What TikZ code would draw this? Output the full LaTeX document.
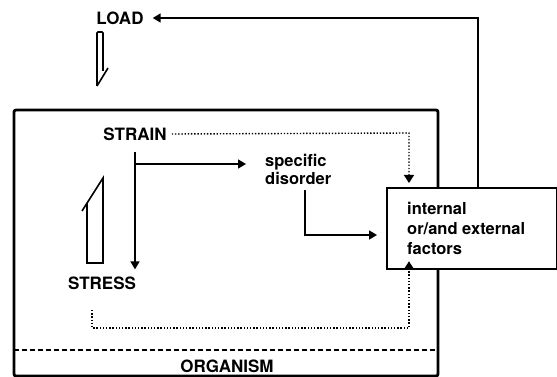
\documentclass[tikz,border=0pt]{standalone}
\usepackage{fontspec}
\setmainfont{TeX Gyre Heros}
\usetikzlibrary{arrows.meta}
\begin{document}
\begin{tikzpicture}[x=1pt,y=-1pt,
  lbl/.style={font=\fontsize{17}{20}\selectfont\bfseries, inner sep=0pt},
  conn/.style={line width=1.7pt, -{Triangle[length=8pt,width=9pt]}},
  dotline/.style={line width=1.4pt, dash pattern=on 1.4pt off 1.8pt, -{Triangle[length=8pt,width=10pt]}},
  hollow/.style={line width=1.6pt, line join=miter},
  boxline/.style={line width=2.8pt}]
\useasboundingbox (0,0) rectangle (557,377);
% organism box
\draw[boxline, rounded corners=2pt] (14,110) rectangle (438,376);
\draw[line width=2.8pt, dash pattern=on 5pt off 3pt] (14,350) -- (438,350);
\node[lbl] (org) at (227,366) {ORGANISM};
% factors box
\node[draw, line width=2.3pt, fill=white, minimum width=170pt, minimum height=81pt,
      anchor=north west, inner sep=0pt] (fac) at (386,187) {};
\node[font=\fontsize{16.5}{20}\selectfont\bfseries, align=left, anchor=west, inner sep=0pt]
  (factxt) at (407,228) {internal\\or/and external\\factors};
% labels
\node[lbl] (load) at (120,18) {LOAD};
\node[lbl] (strain) at (135,134) {STRAIN};
\node[lbl] (stress) at (102,283) {STRESS};
\node[font=\fontsize{16.5}{18}\selectfont\bfseries, align=left, anchor=west, inner sep=0pt]
  (spec) at (265,169) {specific\\disorder};
% coordinates
\coordinate (sv) at (135,152);
\coordinate (sh) at (135,164);
\coordinate (fbtop) at (478,187);
\coordinate (ddown) at (305,190);
\coordinate (dtop) at (409,133);
\coordinate (dbot) at (92,310);
% connectors
\draw[conn, shorten >=9pt] (fbtop) |- (load.east);
\draw[conn, shorten >=7pt] (sv) -- (stress.north -| sv);
\draw[conn, shorten >=19pt] (sh) -- (spec.west |- sh);
\draw[conn, shorten >=9pt] (ddown) |- (fac.west |- 0,235);
\draw[dotline, shorten >=4pt] (strain.east) ++(5,0) -- (dtop) -- (fac.north -| dtop);
\draw[dotline] (dbot) -- (92,328) -- (409,328) -- ([yshift=9pt]fac.south -| dtop);
% hollow arrows
\draw[hollow, rounded corners=1pt] (97,86) -- (97,32) -- (103,32) -- (103,71);
\draw[hollow] (108,68) -- (97,86);
\draw[hollow] (82,211) -- (103,178) -- (103,263) -- (87,263) -- (87,203);
\end{tikzpicture}
\end{document}
